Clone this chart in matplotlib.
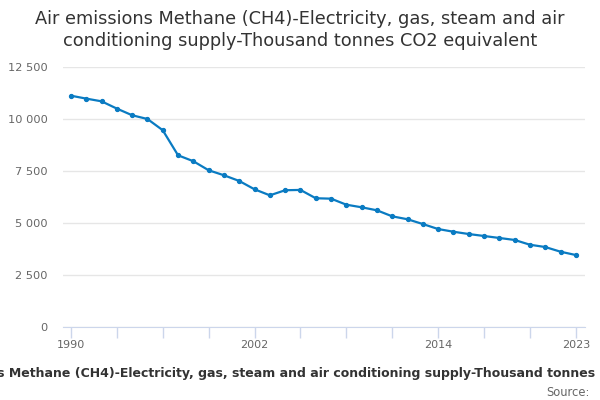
import matplotlib
matplotlib.use('Agg')
import matplotlib.pyplot as plt
from matplotlib.ticker import FuncFormatter

years = list(range(1990, 2024))
emissions = [11120, 10980, 10850, 10500, 10180, 10000, 9460, 8255, 7970, 7535,
             7295, 7020, 6620, 6330, 6575, 6590, 6190, 6170, 5880, 5755,
             5610, 5320, 5180, 4950, 4710, 4580, 4470, 4375, 4280, 4185,
             3955, 3845, 3620, 3460]
x_tick_pos = list(range(1990, 2024, 3))
x_label_years = [1990, 2002, 2014, 2023]
title = ('Air emissions Methane (CH4)-Electricity, gas, steam and air\n'
         'conditioning supply-Thousand tonnes CO2 equivalent')
axis_title = ('Air emissions Methane (CH4)-Electricity, gas, steam and air '
              'conditioning supply-Thousand tonnes CO2 equivalent')

line_color = '#0a7bc2'
grid_color = '#e6e6e6'
axis_color = '#ccd6eb'
label_color = '#666666'

fig = plt.figure(figsize=(6, 4), dpi=100)
ax = fig.add_axes([0.105, 0.1825, 0.87, 0.65])

ax.plot(years, emissions, color=line_color, linewidth=1.6, marker='o',
        markersize=2.8, zorder=3)

ax.set_xlim(1989.48, 2023.6)
ax.set_ylim(0, 12500)
ax.set_yticks([0, 2500, 5000, 7500, 10000, 12500])
ax.yaxis.set_major_formatter(FuncFormatter(lambda v, p: '{:,.0f}'.format(v).replace(',', ' ')))
ax.grid(axis='y', color=grid_color, linewidth=1)
ax.set_axisbelow(True)

ax.set_xticks(x_tick_pos)
ax.set_xticklabels([str(y) if y in x_label_years else '' for y in x_tick_pos])

for s in ['top', 'right', 'left']:
    ax.spines[s].set_visible(False)
ax.spines['bottom'].set_color(axis_color)
ax.tick_params(axis='x', colors=axis_color, length=8, width=1, labelcolor=label_color,
               labelsize=8, pad=1)
ax.tick_params(axis='y', length=0, labelcolor=label_color, labelsize=8.2, pad=11)

# title, two lines
fig.text(0.5, 0.975, title, ha='center', va='top', fontsize=12.8, color='#333333',
         linespacing=1.25)
# axis title is wider than the figure, clipped like in the original
fig.text(0.5145, 0.067, axis_title, ha='center', va='center', fontsize=9,
         fontweight='bold', color='#333333')
fig.text(0.983, 0.02, 'Source:', ha='right', va='center', fontsize=8.3, color='#666666')

fig.savefig('out.png', dpi=100)
